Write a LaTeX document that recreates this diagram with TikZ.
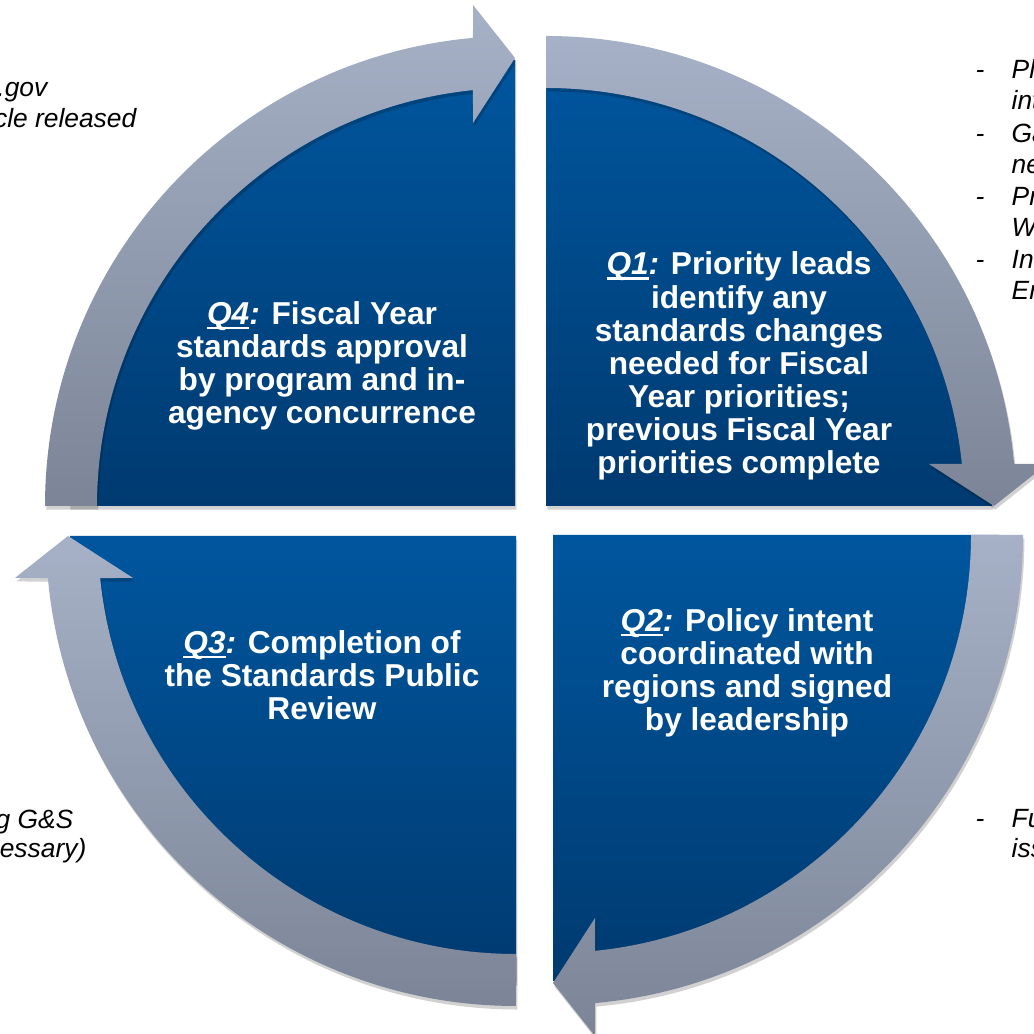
\documentclass[tikz,border=0pt]{standalone}
\usepackage{fontspec}
\setsansfont{Liberation Sans}
\usetikzlibrary{calc}
\definecolor{quadtop}{RGB}{0,86,158}
\definecolor{quadbottom}{RGB}{0,58,112}
\definecolor{bandtop}{RGB}{166,177,199}
\definecolor{bandbottom}{RGB}{124,133,151}
\tikzset{
  softshadow/.style={preaction={fill=black, opacity=0.18, transform canvas={xshift=0.4pt, yshift=-1pt}}},
  quadfill/.style={softshadow, top color=quadtop, bottom color=quadbottom},
  bandfill/.style={softshadow, top color=bandtop, bottom color=bandbottom},
  quadtext/.style={text=white, align=center, inner sep=0pt, font=\sffamily\bfseries\fontsize{9}{9.4}\selectfont},
  sidetext/.style={inner sep=0pt, font=\sffamily\itshape\fontsize{7.5}{8.5}\selectfont}
}
\newcommand{\quadsector}[2]{\path[quadfill, shift={(#1)}] (0,0) -- (180+#2:446) arc[start angle=180+#2, end angle=90+#2, radius=446] -- cycle}
\newcommand{\cyclearrow}[2]{\path[bandfill, shift={(#1)}] (180+#2:470) arc[start angle=180+#2, end angle=95.13+#2, radius=470] -- (94.79+#2:502.8) -- (90+#2:448) -- (96.26+#2:385.3) -- (95.77+#2:418) arc[start angle=95.77+#2, end angle=180+#2, radius=418] -- cycle}
\newsavebox{\qtagbox}
\newcommand{\qtag}[1]{\sbox{\qtagbox}{\textit{#1}}\rlap{\rule[-1.3pt]{\wd\qtagbox}{0.65pt}}\usebox{\qtagbox}\textit{:}}

\begin{document}
\begin{tikzpicture}[x=0.01cm, y=0.01cm]
                \useasboundingbox[fill=white] (0,0) rectangle (1034,1034);

                \coordinate (c4) at (515,528);
                \coordinate (c1) at (546,528);
                \coordinate (c2) at (553,499);
                \coordinate (c3) at (516,498);

                \quadsector{c4}{0};
                \quadsector{c1}{-90};
                \quadsector{c2}{-180};
                \quadsector{c3}{90};

                \cyclearrow{c4}{0};
                \cyclearrow{c1}{-90};
                \cyclearrow{c2}{-180};
                \cyclearrow{c3}{90};

                \node[quadtext] (q1) at (739,668) {\qtag{Q1} Priority leads\\identify any\\standards changes\\needed for Fiscal\\Year priorities;\\previous Fiscal Year\\priorities complete};
                \node[quadtext] (q2) at (747,361) {\qtag{Q2} Policy intent\\coordinated with\\regions and signed\\by leadership};
                \node[quadtext] (q3) at (322,359) {\qtag{Q3} Completion of\\the Standards Public\\Review};
                \node[quadtext] (q4) at (322,668) {\qtag{Q4} Fiscal Year\\standards approval\\by program and in-\\agency concurrence};

                % notes cut by the page edge
                \node[sidetext, anchor=base east] (n4a) at (48,937) {.gov};
                \node[sidetext, anchor=base east] (n4b) at (137,906) {cle released};

                \node[sidetext, anchor=base west] (d1a) at (975,955) {-};
                \node[sidetext, anchor=base west] (n1a) at (1011,955) {Pl};
                \node[sidetext, anchor=base west] (n1b) at (1011,924) {int};
                \node[sidetext, anchor=base west] (d1c) at (975,891) {-};
                \node[sidetext, anchor=base west] (n1c) at (1011,891) {Ga};
                \node[sidetext, anchor=base west] (n1d) at (1011,860) {ne};
                \node[sidetext, anchor=base west] (d1e) at (975,828) {-};
                \node[sidetext, anchor=base west] (n1e) at (1011,828) {Pr};
                \node[sidetext, anchor=base west] (n1f) at (1011,797) {W};
                \node[sidetext, anchor=base west] (d1g) at (975,765) {-};
                \node[sidetext, anchor=base west] (n1g) at (1011,765) {In};
                \node[sidetext, anchor=base west] (n1h) at (1011,734) {En};

                \node[sidetext, anchor=base west] (d2a) at (975,206) {-};
                \node[sidetext, anchor=base west] (n2a) at (1011,206) {Fu};
                \node[sidetext, anchor=base west] (n2b) at (1011,176) {iss};

                \node[sidetext, anchor=base east] (n3a) at (74,205) {g G\&S};
                \node[sidetext, anchor=base east] (n3b) at (87,176) {essary)};
            \end{tikzpicture}
\end{document}
